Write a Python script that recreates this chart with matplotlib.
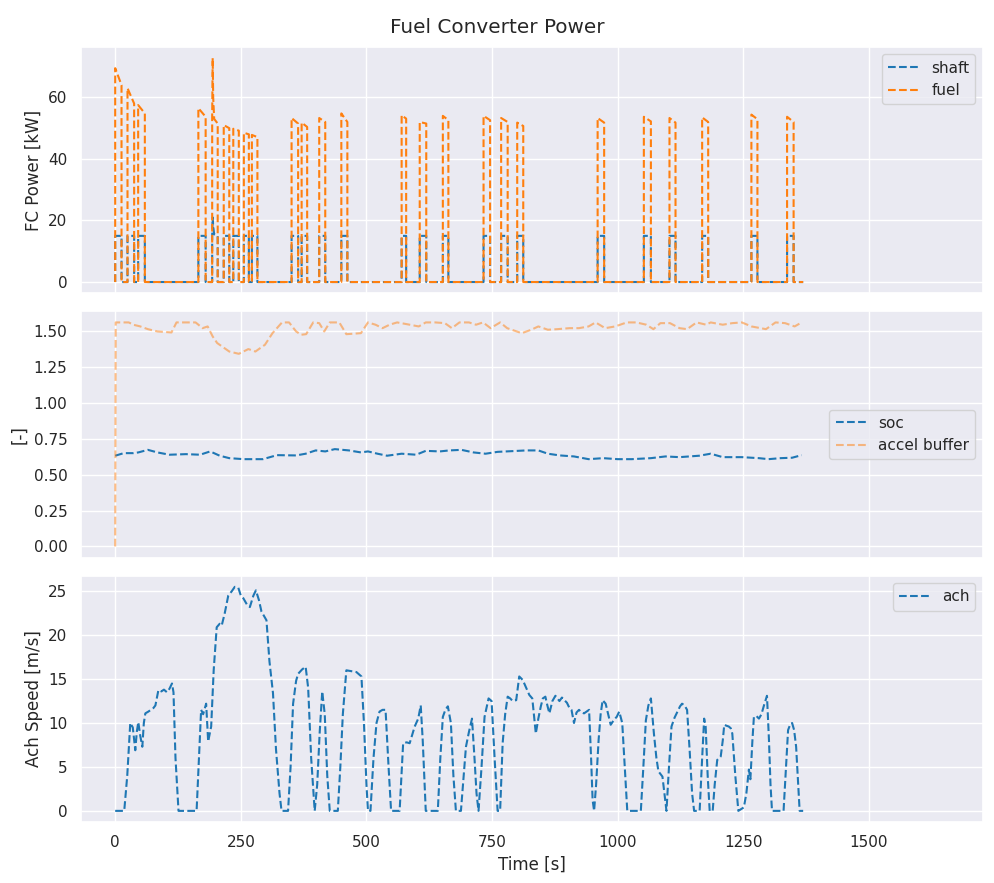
import matplotlib
matplotlib.use('Agg')
import matplotlib.pyplot as plt
from matplotlib.ticker import MultipleLocator
import seaborn as sns

sns.set_theme(style='darkgrid', palette='tab10')

# fuel converter on/off pulses [s] and fuel power at pulse start / end [kW]
pulse_start = [0, 24.5, 45.7, 165.5, 193, 216, 235, 256, 272, 351, 371, 406, 450,
               570, 606, 652, 733, 768, 800, 960, 1052, 1103, 1168, 1266, 1337]
pulse_end = [12.6, 37.7, 59, 180, 204, 227, 246, 266, 283, 364, 382, 418, 462,
             579, 619, 663, 746, 781, 812, 973, 1066, 1115, 1180, 1278, 1350]
fuel_start = [69.5, 63, 57.5, 56.5, 53.5, 51, 49.8, 48.5, 47.8, 53.3, 51.8, 53.3, 54.8,
              54.2, 52, 54, 54, 53.3, 51.8, 53.3, 53.7, 53.3, 53.5, 54.4, 53.7]
fuel_end = [64, 58, 54.8, 53.7, 51.5, 50, 49.2, 48, 47.1, 51.5, 50.4, 52, 52,
            53.1, 51.5, 52.6, 52.6, 52, 50.7, 51.8, 52.2, 51.8, 52, 52.9, 52]
shaft_on = 15
# short spike inside one pulse
spike_t = [194, 195, 197]
spike_fuel = [72.8, 60, 53]
spike_shaft = [21, 18, 15.5]
t_final = 1369

# soc and accel buffer
soc_t = [0, 17, 36, 46, 65, 84, 108, 141, 169, 189, 208, 227, 256, 294, 322, 360, 379, 399, 418, 437,
         465, 489, 503, 522, 541, 570, 599, 618, 646, 665, 689, 713, 737, 761, 790, 818, 842, 861, 885, 913,
         942, 971, 1000, 1028, 1066, 1095, 1123, 1162, 1185, 1209, 1247, 1281, 1300, 1324, 1347, 1366]
soc = [0.633, 0.651, 0.651, 0.656, 0.674, 0.656, 0.640, 0.644, 0.640, 0.663, 0.633, 0.616, 0.609, 0.609,
       0.637, 0.635, 0.647, 0.670, 0.663, 0.679, 0.670, 0.656, 0.663, 0.647, 0.633, 0.647, 0.640, 0.667,
       0.663, 0.670, 0.674, 0.656, 0.647, 0.660, 0.665, 0.670, 0.670, 0.647, 0.635, 0.628, 0.609, 0.616,
       0.609, 0.609, 0.616, 0.628, 0.623, 0.633, 0.647, 0.623, 0.623, 0.616, 0.609, 0.616, 0.619, 0.637]

buf_t = [0, 1, 27, 36, 50, 65, 84, 112, 122, 160, 174, 184, 194, 203, 227, 246, 265, 279, 298, 313,
         332, 346, 360, 370, 380, 394, 406, 416, 427, 446, 460, 489, 503, 518, 532, 546, 561, 580, 604, 618,
         637, 656, 670, 685, 704, 718, 732, 747, 766, 780, 809, 828, 842, 861, 880, 904, 923, 942, 956, 975,
         995, 1018, 1037, 1057, 1071, 1085, 1104, 1123, 1138, 1157, 1176, 1185, 1209, 1228, 1247, 1266, 1295,
         1314, 1333, 1352, 1366]
accel_buffer = [0, 1.563, 1.563, 1.547, 1.535, 1.516, 1.50, 1.493, 1.563, 1.563, 1.523, 1.535, 1.465, 1.419,
                1.360, 1.344, 1.377, 1.360, 1.407, 1.488, 1.563, 1.563, 1.50, 1.477, 1.481, 1.563, 1.558, 1.50,
                1.563, 1.563, 1.481, 1.488, 1.563, 1.547, 1.523, 1.547, 1.563, 1.551, 1.535, 1.563, 1.563, 1.558,
                1.523, 1.563, 1.563, 1.547, 1.563, 1.523, 1.563, 1.523, 1.488, 1.512, 1.535, 1.512, 1.516, 1.523,
                1.523, 1.535, 1.563, 1.523, 1.535, 1.563, 1.563, 1.547, 1.516, 1.558, 1.558, 1.523, 1.516, 1.563,
                1.547, 1.563, 1.547, 1.558, 1.563, 1.535, 1.516, 1.563, 1.558, 1.535, 1.563]

# achieved speed
speed_t = [0, 18, 24, 30, 35, 40, 43, 46, 50, 54, 57, 60, 66, 76, 80, 86, 92, 97, 103, 108,
           113, 116, 120, 126, 162, 166, 171, 175, 181, 185, 191, 196, 202, 208, 212, 218, 225, 232, 238, 245,
           250, 255, 262, 268, 275, 280, 286, 291, 301, 307, 314, 320, 327, 331, 344, 349, 354, 360, 364, 372,
           379, 384, 390, 397, 402, 407, 412, 417, 422, 427, 443, 448, 453, 460, 470, 480, 490, 495, 500, 503,
           508, 514, 520, 526, 532, 538, 544, 549, 566, 573, 580, 586, 596, 603, 608, 612, 618, 642, 647, 652,
           657, 662, 668, 673, 678, 688, 698, 704, 710, 715, 719, 723, 729, 735, 743, 749, 755, 761, 766, 771,
           776, 781, 786, 791, 798, 804, 811, 818, 824, 830, 837, 842, 847, 851, 856, 860, 864, 870, 876, 884,
           889, 894, 899, 904, 908, 913, 918, 923, 928, 933, 938, 943, 947, 950, 953, 957, 962, 966, 970, 976,
           981, 986, 993, 998, 1003, 1009, 1014, 1019, 1046, 1051, 1056, 1061, 1066, 1072, 1077, 1081, 1089, 1093, 1097, 1102,
           1107, 1113, 1119, 1124, 1128, 1133, 1138, 1143, 1148, 1152, 1163, 1168, 1172, 1175, 1179, 1183, 1189, 1193, 1198, 1205,
           1209, 1212, 1216, 1221, 1225, 1228, 1234, 1240, 1251, 1256, 1261, 1264, 1268, 1271, 1276, 1281, 1286, 1291, 1297, 1301,
           1304, 1307, 1330, 1334, 1339, 1343, 1347, 1351, 1355, 1359, 1362, 1369]
speed_ms = [0, 0, 4, 10.0, 9.5, 6.9, 9, 10.1, 8.5, 7.3, 10, 11.1, 11.3, 11.7, 12.0, 13.75, 13.6, 13.8, 13.5, 13.9,
            14.5, 13.5, 6, 0, 0, 5, 11.5, 11.0, 12.2, 7.9, 9.6, 16, 20.9, 21.3, 21.1, 22.5, 24.5, 25.0, 25.5, 25.4,
            24.5, 24.2, 23.5, 23.2, 24.5, 25.1, 24, 22.7, 21.7, 17, 13.4, 7, 2, 0, 0, 5, 12.2, 14.8, 15.6, 16.1,
            16.4, 14, 6, 0, 3, 9, 13.6, 11, 4, 0, 0, 5, 11, 16.0, 15.9, 15.8, 15.3, 10, 3, 0,
            0, 6, 10, 11.3, 11.5, 11.5, 5, 0, 0, 7.7, 7.8, 7.7, 9.6, 10.5, 12.0, 8, 0, 0, 6, 10.7,
            11.5, 11.9, 10, 4, 0, 0, 7.3, 9, 10.5, 6, 2, 0, 5, 10.7, 12.8, 12.5, 6, 0, 0, 7.7,
            11, 13.0, 12.8, 12.5, 12.6, 15.3, 14.9, 14, 13.2, 12.8, 8.8, 10.5, 11.9, 12.8, 13.0, 12, 11.1, 12.5, 13.1, 12.5,
            12.9, 12.6, 12.3, 11.7, 11.5, 10.0, 11.2, 11.5, 11.2, 11.1, 11.3, 11.5, 6, 1.25, 0, 3, 8.1, 11, 12.6, 12.2,
            11, 9.8, 10.4, 10.7, 11.3, 10.0, 5, 0, 0, 5, 10.3, 12, 12.8, 8.8, 6, 4.5, 3.9, 2, 0, 5,
            9.6, 10.6, 11.3, 11.9, 12.2, 12, 11.5, 7, 2, 0, 0, 6, 10.5, 9.6, 4, 0, 0, 3, 5.8, 6.2,
            8, 9.8, 9.7, 9.6, 9.4, 8.8, 4, 0, 0.4, 2, 4.7, 3.6, 8, 10.7, 10.8, 10.5, 11, 12.0, 13.1, 8,
            3, 0, 0, 4, 9.2, 9.8, 10.0, 9.2, 7.3, 3, 0, 0]

# build the stepped power traces from the pulse table
fc_t, fuel_kw, shaft_kw = [], [], []
for s, e, fs, fe in zip(pulse_start, pulse_end, fuel_start, fuel_end):
    fc_t += [s, s]
    fuel_kw += [0, fs]
    shaft_kw += [0, shaft_on]
    if s < spike_t[0] < e:
        fc_t += spike_t
        fuel_kw += spike_fuel
        shaft_kw += spike_shaft
    fc_t += [e, e]
    fuel_kw += [fe, 0]
    shaft_kw += [shaft_on, 0]
fc_t.append(t_final)
fuel_kw.append(0)
shaft_kw.append(0)

fig, (ax0, ax1, ax2) = plt.subplots(3, 1, figsize=(9.94, 8.83), dpi=100, sharex=True)

ax0.plot(fc_t, shaft_kw, '--', color='tab:blue', label='shaft')
ax0.plot(fc_t, fuel_kw, '--', color='tab:orange', label='fuel')
ax0.set_ylabel('FC Power [kW]')
ax0.legend(loc='upper right')

ax1.plot(soc_t, soc, '--', color='tab:blue', label='soc')
ax1.plot(buf_t, accel_buffer, '--', color='tab:orange', alpha=0.5, label='accel buffer')
ax1.set_ylabel('[-]')
ax1.legend(loc='center right')

ax2.plot(speed_t, speed_ms, '--', color='tab:blue', label='ach')
ax2.set_ylabel('Ach Speed [m/s]')
ax2.set_xlabel('Time [s]')
ax2.legend(loc='upper right')
ax2.set_xlim(-69, 1727)
ax2.xaxis.set_major_locator(MultipleLocator(250))

fig.suptitle('Fuel Converter Power')
fig.subplots_adjust(left=0.081, right=0.989, top=0.947, bottom=0.069, hspace=0.073)

plt.savefig('out.png')
